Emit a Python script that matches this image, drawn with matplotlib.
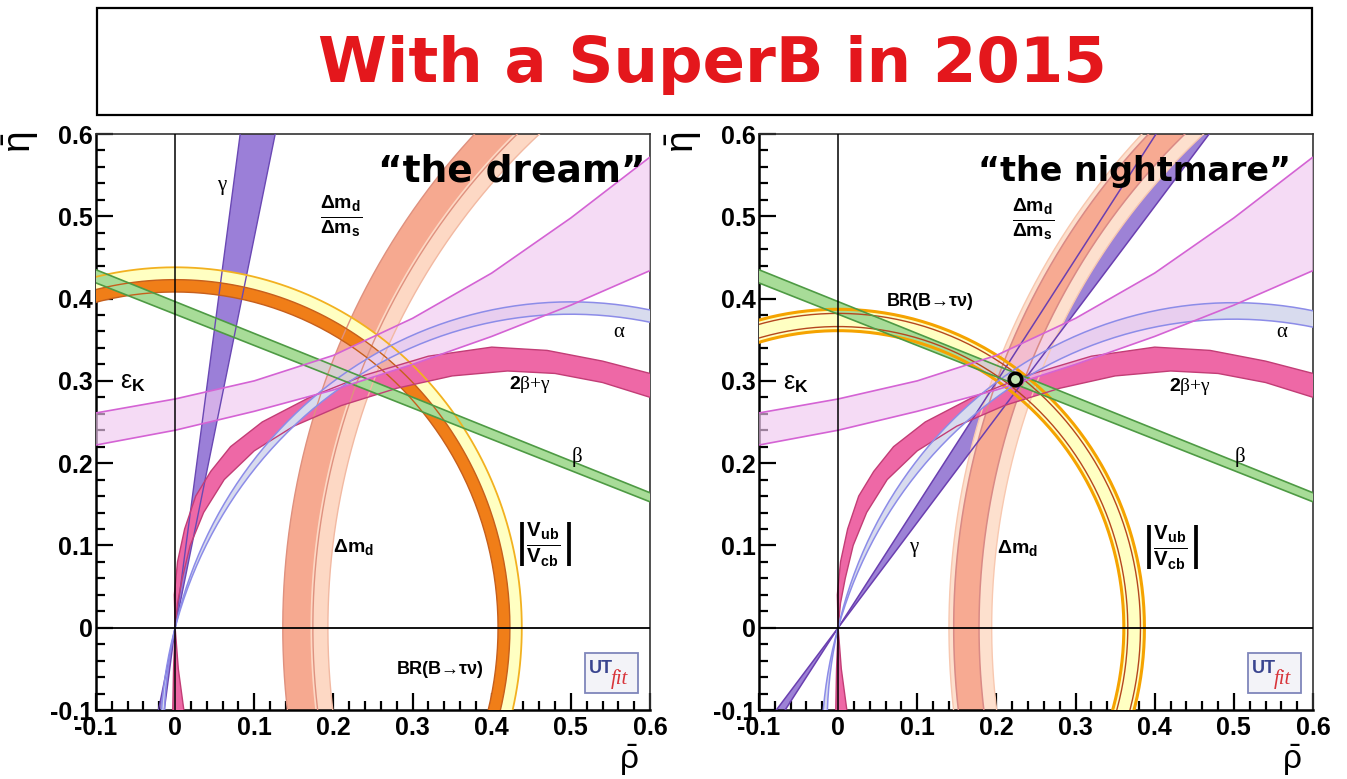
import numpy as np
import matplotlib.pyplot as plt
from matplotlib.patches import Rectangle

plt.rcParams['font.family'] = ['Liberation Sans', 'DejaVu Sans']
plt.rcParams['mathtext.fontset'] = 'custom'
plt.rcParams['mathtext.rm'] = 'Liberation Sans'
plt.rcParams['mathtext.bf'] = 'Liberation Sans:bold'
plt.rcParams['mathtext.it'] = 'Liberation Serif:italic'
plt.rcParams['mathtext.sf'] = 'Liberation Sans'

# ---- axis ticks --------------------------------------------------------
tick_vals = [-0.1, 0.0, 0.1, 0.2, 0.3, 0.4, 0.5, 0.6]
tick_text = ['-0.1', '0', '0.1', '0.2', '0.3', '0.4', '0.5', '0.6']

# ---- bands shared by both panels ---------------------------------------
# beta: eta of each edge at rho=-0.1 and rho=0.6
beta_upper = [0.435, 0.164]
beta_lower = [0.419, 0.153]

# 2beta+gamma band edges (rho, eta)
bg_up_rho = [0.011, 0.004, 0.0, -0.001, 0.003, 0.012, 0.026, 0.045, 0.07, 0.11, 0.17, 0.24, 0.32, 0.40, 0.47, 0.54, 0.60]
bg_up_eta = [-0.10, -0.05, 0.0, 0.04, 0.08, 0.12, 0.16, 0.19, 0.22, 0.25, 0.280, 0.307, 0.330, 0.341, 0.337, 0.324, 0.309]
bg_lo_rho = [-0.003, -0.002, 0.0, 0.003, 0.009, 0.019, 0.036, 0.062, 0.10, 0.15, 0.21, 0.28, 0.35, 0.42, 0.48, 0.54, 0.60]
bg_lo_eta = [-0.10, -0.05, 0.0, 0.03, 0.06, 0.10, 0.14, 0.18, 0.215, 0.245, 0.270, 0.291, 0.306, 0.312, 0.309, 0.298, 0.280]

# light violet band edges, eta at rho = -0.1 ... 0.6
band_rho = [-0.1, 0.0, 0.1, 0.2, 0.3, 0.4, 0.5, 0.6]
band_up_eta = [0.261, 0.278, 0.300, 0.331, 0.376, 0.431, 0.498, 0.572]
band_lo_eta = [0.222, 0.240, 0.263, 0.289, 0.320, 0.354, 0.392, 0.434]

# ---- "the dream" ------------------------------------------------------
dream_alpha_peak = [0.396, 0.381]
dream_gamma_deg = [78.1, 82.2]
dream_dmd_r = [0.826, 0.864]
dream_dmds_r = [0.807, 0.829]
dream_vub_r = [0.408, 0.423]
dream_btn_r = [0.423, 0.438]

# ---- "the nightmare" --------------------------------------------------
night_alpha_peak = [0.395, 0.375]
night_gamma_deg = [52.0, 56.2]
night_dmds_r = [0.806, 0.860]
night_dmd_r = [0.822, 0.854]
night_btn_r = [0.361, 0.387]
night_vub_r = [0.366, 0.382]
night_point = [0.224, 0.302]


def arc(cx, cy, r, t0, t1, n=400):
    t = np.radians(np.linspace(t0, t1, n))
    return cx + r * np.cos(t), cy + r * np.sin(t)


def fill_band(ax, c1, c2, fc, z, alpha=1.0):
    xs = np.concatenate([c1[0], c2[0][::-1]])
    ys = np.concatenate([c1[1], c2[1][::-1]])
    ax.fill(xs, ys, color=fc, alpha=alpha, lw=0, zorder=z)


def edge(ax, c, color, lw=1.0, z=7):
    ax.plot(c[0], c[1], color=color, lw=lw, zorder=z, solid_capstyle='butt')


def line_through(e):
    # straight edge given eta at rho=-0.1 and rho=0.6
    slope = (e[1] - e[0]) / 0.7
    x = np.array([-0.2, 0.7])
    return x, e[0] + slope * (x + 0.1)


def alpha_circle(h):
    # circle through (0,0) and (1,0) whose top reaches eta=h
    c = (h * h - 0.25) / (2 * h)
    return arc(0.5, c, h - c, -10, 200)


def gamma_line(deg):
    eta = np.array([-0.2, 0.7])
    return eta / np.tan(np.radians(deg)), eta


def common(ax, alpha_peak):
    # 2beta+gamma
    up = (np.array(bg_up_rho), np.array(bg_up_eta))
    lo = (np.array(bg_lo_rho), np.array(bg_lo_eta))
    fill_band(ax, up, lo, '#ee68a6', 4)
    edge(ax, up, '#c23d76', 1.0)
    edge(ax, lo, '#c23d76', 1.0)
    # alpha
    a1, a2 = alpha_circle(alpha_peak[0]), alpha_circle(alpha_peak[1])
    fill_band(ax, a1, a2, '#d8dbee', 4.5)
    edge(ax, a1, '#8c8ce8', 1.1)
    edge(ax, a2, '#8c8ce8', 1.1)
    # beta
    b1, b2 = line_through(beta_upper), line_through(beta_lower)
    fill_band(ax, b1, b2, '#a8dc98', 5)
    edge(ax, b1, '#4e9a44', 1.2)
    edge(ax, b2, '#4e9a44', 1.2)
    # light violet band
    v1 = (np.array(band_rho), np.array(band_up_eta))
    v2 = (np.array(band_rho), np.array(band_lo_eta))
    fill_band(ax, v1, v2, '#f1c8f1', 6, alpha=0.65)
    edge(ax, v1, '#d463d4', 1.2)
    edge(ax, v2, '#d463d4', 1.2)


def frame(ax):
    ax.set_xlim(-0.1, 0.6)
    ax.set_ylim(-0.1, 0.6)
    ax.axvline(0, color='black', lw=1.1, zorder=8)
    ax.axhline(0, color='black', lw=1.3, zorder=8)
    ax.set_xticks(tick_vals)
    ax.set_xticklabels(tick_text)
    ax.set_yticks(tick_vals)
    ax.set_yticklabels(tick_text)
    ax.set_xticks(np.arange(-0.1, 0.6001, 0.02), minor=True)
    ax.set_yticks(np.arange(-0.1, 0.6001, 0.02), minor=True)
    ax.tick_params(which='both', direction='in', width=1.6, top=False, right=False)
    ax.tick_params(which='major', length=12, labelsize=18, pad=4)
    ax.tick_params(which='minor', length=6.5)
    for lab in ax.get_xticklabels() + ax.get_yticklabels():
        lab.set_fontweight('bold')
    ax.tick_params(axis='y', pad=2)
    for s in ['left', 'bottom']:
        ax.spines[s].set_linewidth(1.8)
    for s in ['top', 'right']:
        ax.spines[s].set_linewidth(1.2)
        ax.spines[s].set_color('#333333')
    ax.text(-0.135, 0.985, r'$\bar{\mathrm{\eta}}$', transform=ax.transAxes, rotation=90,
            fontsize=28, ha='center', va='center')
    ax.text(0.962, -0.056, r'$\bar{\mathrm{\rho}}$', transform=ax.transAxes,
            fontsize=24, ha='center', va='top')


def utfit(ax):
    ax.add_patch(Rectangle((0.518, -0.079), 0.067, 0.048, fc='#f3f3f8', ec='#7f86bb',
                           lw=1.3, zorder=9))
    ax.text(0.523, -0.05, 'UT', fontsize=13, fontweight='bold', color='#3a4590',
            ha='left', va='center', zorder=10)
    ax.text(0.551, -0.062, 'fit', fontsize=15, style='italic', family='Liberation Serif',
            color='#d8343a', ha='left', va='center', zorder=10)


def labels(ax, pos):
    serif = dict(family='Liberation Serif', fontsize=15, zorder=10, ha='center', va='center')
    bold = dict(fontsize=13, fontweight='bold', zorder=10, ha='center', va='center')
    ax.text(*pos['gamma'], 'γ', **serif)
    ax.text(*pos['alpha'], 'α', **serif)
    ax.text(*pos['beta'], 'β', **serif)
    ax.text(*pos['eps'], r'$\mathrm{\varepsilon}_{\mathbf{K}}$', fontsize=18, zorder=10,
            ha='center', va='center')
    ax.text(*pos['bg'], r'$\mathbf{2}$' + 'β+γ', family=['Liberation Serif'], fontsize=14,
            zorder=10, ha='center', va='center')
    ax.text(*pos['dmd'], r'$\mathbf{\Delta m_d}$', fontsize=14, zorder=10,
            ha='center', va='center')
    ax.text(*pos['ratio'], r'$\frac{\mathbf{\Delta m_d}}{\mathbf{\Delta m_s}}$',
            fontsize=20, zorder=10, ha='center', va='center')
    ax.text(*pos['vub'], r'$\left|\frac{\mathbf{V_{ub}}}{\mathbf{V_{cb}}}\right|$',
            fontsize=21, zorder=10, ha='center', va='center')
    ax.text(*pos['btn'], 'BR(B→τν)', family=['Liberation Sans', 'DejaVu Sans'], **bold)


fig = plt.figure(figsize=(13.47, 7.79), dpi=100)

# title box
fig.patches.append(Rectangle((97 / 1347, 1 - 115 / 779), 1215 / 1347, 107 / 779,
                             transform=fig.transFigure, fill=False, ec='black', lw=1.6))
fig.text(0.529, 0.916, 'With a SuperB in 2015', color='#e4171c', fontsize=45,
         fontweight='bold', family='DejaVu Sans', ha='center', va='center')

# ---------------- left: the dream ----------------
ax = fig.add_axes([96 / 1347, 1 - 710 / 779, 554 / 1347, 576 / 779])
g1, g2 = gamma_line(dream_gamma_deg[0]), gamma_line(dream_gamma_deg[1])
fill_band(ax, g1, g2, '#9b7fd8', 1)
edge(ax, g1, '#6a48b4', 1.0)
edge(ax, g2, '#6a48b4', 1.0)

d1, d2 = arc(1, 0, dream_dmd_r[0], 95, 200), arc(1, 0, dream_dmd_r[1], 95, 200)
fill_band(ax, d1, d2, '#f6a990', 2)
edge(ax, d1, '#df917f', 1.0)
edge(ax, d2, '#df917f', 1.0)
p1, p2 = arc(1, 0, dream_dmds_r[0], 95, 200), arc(1, 0, dream_dmds_r[1], 95, 200)
fill_band(ax, p1, p2, '#fdd8c4', 2.1)
edge(ax, p1, '#f2b9a2', 1.0)

y1, y2 = arc(0, 0, dream_btn_r[0], -30, 210), arc(0, 0, dream_btn_r[1], -30, 210)
fill_band(ax, y1, y2, '#ffffc2', 3)
edge(ax, y2, '#f2b120', 1.3)
o1, o2 = arc(0, 0, dream_vub_r[0], -30, 210), arc(0, 0, dream_vub_r[1], -30, 210)
fill_band(ax, o1, o2, '#f07e18', 3.1)
edge(ax, o1, '#c65f1c', 1.0)
edge(ax, o2, '#c65f1c', 1.0)

common(ax, dream_alpha_peak)
frame(ax)
utfit(ax)
labels(ax, {'gamma': (0.059, 0.538), 'alpha': (0.561, 0.359), 'beta': (0.508, 0.207),
            'eps': (-0.053, 0.299), 'bg': (0.448, 0.295), 'dmd': (0.225, 0.098),
            'ratio': (0.21, 0.5), 'vub': (0.465, 0.1), 'btn': (0.335, -0.051)})
ax.text(0.426, 0.555, '“the dream”', fontsize=27, fontweight='bold', family='DejaVu Sans',
        ha='center', va='center', zorder=11)

# ---------------- right: the nightmare ----------------
ax = fig.add_axes([759 / 1347, 1 - 710 / 779, 554 / 1347, 576 / 779])
g1, g2 = gamma_line(night_gamma_deg[0]), gamma_line(night_gamma_deg[1])
fill_band(ax, g1, g2, '#9d82d6', 1)

p1, p2 = arc(1, 0, night_dmds_r[0], 95, 200), arc(1, 0, night_dmds_r[1], 95, 200)
fill_band(ax, p1, p2, '#fde0ce', 2)
edge(ax, p1, '#f8c8b0', 1.0)
edge(ax, p2, '#f8c8b0', 1.0)
d1, d2 = arc(1, 0, night_dmd_r[0], 95, 200), arc(1, 0, night_dmd_r[1], 95, 200)
fill_band(ax, d1, d2, '#f7aa92', 2.1)
edge(ax, d1, '#d98a86', 1.1)
edge(ax, d2, '#d98a86', 1.1)
edge(ax, g1, '#6a3fb0', 1.1)
edge(ax, g2, '#6a3fb0', 1.1)

y1, y2 = arc(0, 0, night_btn_r[0], -30, 210), arc(0, 0, night_btn_r[1], -30, 210)
fill_band(ax, y1, y2, '#ffffc2', 3)
edge(ax, y1, '#f5a300', 2.2)
edge(ax, y2, '#f5a300', 2.2)
for r in night_vub_r:
    edge(ax, arc(0, 0, r, -30, 210), '#b5461e', 1.0)

common(ax, night_alpha_peak)
frame(ax)
utfit(ax)
labels(ax, {'gamma': (0.096, 0.097), 'alpha': (0.561, 0.359), 'beta': (0.508, 0.207),
            'eps': (-0.053, 0.298), 'bg': (0.445, 0.293), 'dmd': (0.227, 0.097),
            'ratio': (0.246, 0.497), 'vub': (0.42, 0.097), 'btn': (0.116, 0.397)})
ax.plot(night_point[0], night_point[1], 'o', ms=9, mfc='#c4e4b4', mec='black', mew=2.6,
        zorder=12)
ax.text(0.375, 0.555, '“the nightmare”', fontsize=24, fontweight='bold', family='DejaVu Sans',
        ha='center', va='center', zorder=11)

fig.savefig('out.png', dpi=100)
